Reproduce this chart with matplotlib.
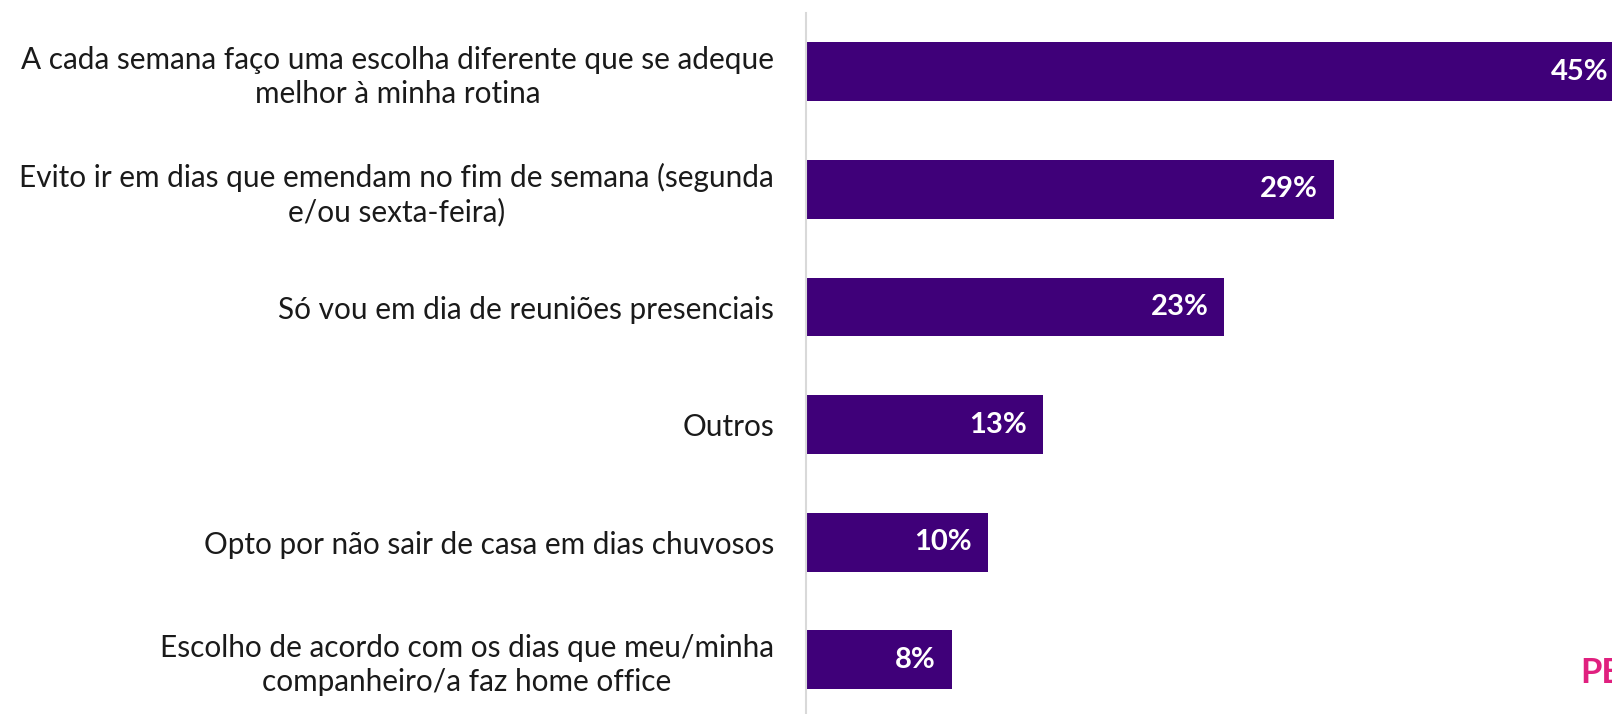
import matplotlib
matplotlib.use("Agg")
import matplotlib.pyplot as plt

categories = [
    "A cada semana faço uma escolha diferente que se adeque\nmelhor à minha rotina",
    "Evito ir em dias que emendam no fim de semana (segunda\ne/ou sexta-feira)",
    "Só vou em dia de reuniões presenciais",
    "Outros",
    "Opto por não sair de casa em dias chuvosos",
    "Escolho de acordo com os dias que meu/minha\ncompanheiro/a faz home office",
]
values = [45, 29, 23, 13, 10, 8]
value_labels = ["45%", "29%", "23%", "13%", "10%", "8%"]

BAR_COLOR = "#3f0079"
TEXT_COLOR = "#1a1a1a"
FONT = "Lato"

W, H = 1612, 714
fig = plt.figure(figsize=(W / 100, H / 100), dpi=100, facecolor="white")

# axes: left edge at the grey axis line, top at y=13px, 6 slots of ~117.6 px
slot = 117.6
top_px = 13
ax = fig.add_axes([806 / W, (H - top_px - 6 * slot) / H, (W - 806) / W, 6 * slot / H])

y = list(range(len(categories)))
ax.barh(y, values, height=0.5, color=BAR_COLOR)
ax.set_xlim(0, 44.3)
ax.set_ylim(5.5, -0.5)

for yi, v, lab in zip(y, values, value_labels):
    ax.annotate(lab, xy=(v, yi), xytext=(-11.5, 0), textcoords="offset points",
                ha="right", va="center", color="white", fontsize=21,
                fontweight="bold", family=FONT, annotation_clip=False)

ax.set_yticks(y)
ax.set_yticklabels(categories, fontsize=21.4, family=FONT, color=TEXT_COLOR,
                   linespacing=1.25)
for t in ax.get_yticklabels():
    t.set_multialignment("center")
ax.tick_params(axis="y", length=0, pad=23)
ax.set_xticks([])

for side in ["top", "right", "bottom"]:
    ax.spines[side].set_visible(False)
ax.spines["left"].set_color("#d9d9d9")
ax.spines["left"].set_linewidth(1.5)

# cropped logo text at bottom right
fig.text(1580 / W, (H - 683) / H, "PE", color="#e0207f", fontsize=25,
         fontweight="bold", family=FONT, ha="left", va="baseline")

fig.savefig("out.png", dpi=100, facecolor="white")
